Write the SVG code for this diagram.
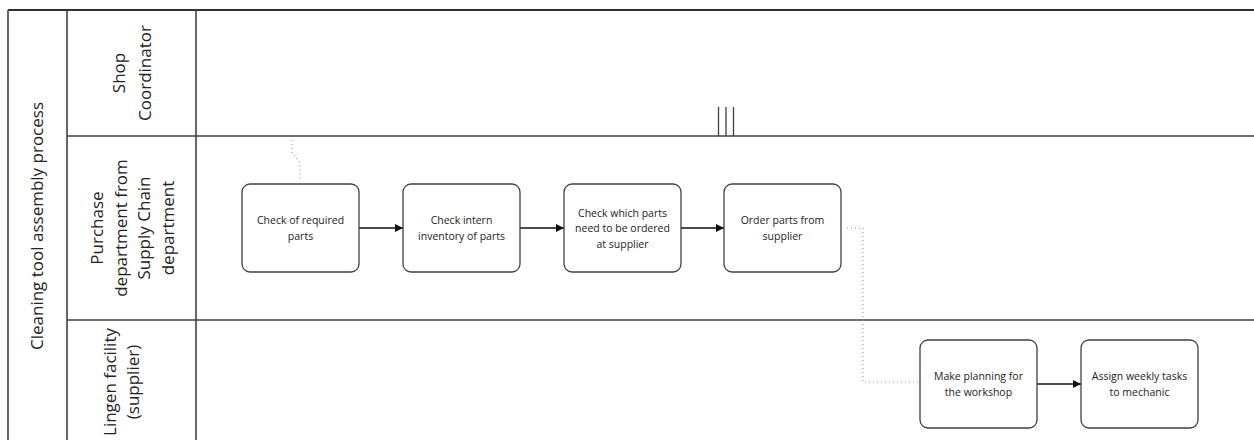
<svg xmlns="http://www.w3.org/2000/svg" width="1254" height="440" viewBox="0 0 1254 440">
<style>
.lane{stroke:#404040;stroke-width:1.6;fill:none}
.top{stroke:#303030;stroke-width:2.2;fill:none}
.task{fill:#fff;stroke:#404040;stroke-width:1.3}
.tt{font-family:"Open Sans","Noto Sans",sans-serif;font-size:10.5px;fill:#222;text-anchor:middle}
.lbl{font-family:"Open Sans","Noto Sans",sans-serif;font-size:17px;fill:#222;text-anchor:middle}
.flow{stroke:#111;stroke-width:1.3;fill:none;marker-end:url(#ah)}
.dot{stroke:#999;stroke-width:1.2;fill:none;stroke-dasharray:1 3}
</style>
<defs>
<marker id="ah" viewBox="0 0 10 10" refX="10" refY="5" markerWidth="8" markerHeight="8" markerUnits="userSpaceOnUse" orient="auto">
<path d="M0,0 L10,5 L0,10 z" fill="#111"/>
</marker>
</defs>
<rect width="1254" height="440" fill="#fff"/>
<g id="pool">
<line class="top" x1="8" y1="10" x2="1254" y2="10"/>
<line class="lane" x1="8" y1="10" x2="8" y2="440"/>
<line class="lane" x1="67" y1="10" x2="67" y2="440"/>
<line class="lane" x1="196" y1="10" x2="196" y2="440"/>
<line class="lane" x1="67" y1="136" x2="1254" y2="136"/>
<line class="lane" x1="67" y1="320" x2="1254" y2="320"/>
<text class="lbl" transform="translate(37,226) rotate(-90)" y="6">Cleaning tool assembly process</text>
</g>
<g id="lane-shop">
<text class="lbl" transform="translate(132,73) rotate(-90)"><tspan x="0" y="-7">Shop</tspan><tspan x="0" y="19">Coordinator</tspan></text>
<line x1="718.5" y1="107" x2="718.5" y2="136" stroke="#404040" stroke-width="1.3"/>
<line x1="726" y1="107" x2="726" y2="136" stroke="#404040" stroke-width="1.3"/>
<line x1="733.5" y1="107" x2="733.5" y2="136" stroke="#404040" stroke-width="1.3"/>
</g>
<g id="lane-purchase">
<text class="lbl" transform="translate(132,228) rotate(-90)"><tspan x="0" y="-29">Purchase</tspan><tspan x="0" y="-5.5">department from</tspan><tspan x="0" y="18">Supply Chain</tspan><tspan x="0" y="41.5">department</tspan></text>
</g>
<g id="lane-lingen">
<text class="lbl" transform="translate(132,382) rotate(-90)"><tspan x="0" y="-16.5">Lingen facility</tspan><tspan x="0" y="6.5">(supplier)</tspan></text>
</g>
<g id="connectors">
<line class="flow" x1="359" y1="228" x2="403" y2="228"/>
<line class="flow" x1="520" y1="228" x2="564" y2="228"/>
<line class="flow" x1="681" y1="228" x2="724" y2="228"/>
<line class="flow" x1="1037" y1="384" x2="1081" y2="384"/>
<path class="dot" d="M847,228 H863 V382 H918"/>
<path class="dot" d="M292,140 V153 L300,163 V181"/>
</g>
<g id="t1"><rect class="task" x="242" y="184" width="117" height="88" rx="8"/>
<text class="tt"><tspan x="300.5" y="224">Check of required</tspan><tspan x="300.5" y="240">parts</tspan></text></g>
<g id="t2"><rect class="task" x="403" y="184" width="117" height="88" rx="8"/>
<text class="tt"><tspan x="461.5" y="224">Check intern</tspan><tspan x="461.5" y="240">inventory of parts</tspan></text></g>
<g id="t3"><rect class="task" x="564" y="184" width="117" height="88" rx="8"/>
<text class="tt"><tspan x="622.5" y="216.5">Check which parts</tspan><tspan x="622.5" y="232">need to be ordered</tspan><tspan x="622.5" y="247.5">at supplier</tspan></text></g>
<g id="t4"><rect class="task" x="724" y="184" width="117" height="88" rx="8"/>
<text class="tt"><tspan x="782.5" y="224">Order parts from</tspan><tspan x="782.5" y="240">supplier</tspan></text></g>
<g id="t5"><rect class="task" x="920" y="340" width="117" height="88" rx="8"/>
<text class="tt"><tspan x="978.5" y="380">Make planning for</tspan><tspan x="978.5" y="396">the workshop</tspan></text></g>
<g id="t6"><rect class="task" x="1081" y="340" width="117" height="88" rx="8"/>
<text class="tt"><tspan x="1139.5" y="380">Assign weekly tasks</tspan><tspan x="1139.5" y="396">to mechanic</tspan></text></g>
</svg>
